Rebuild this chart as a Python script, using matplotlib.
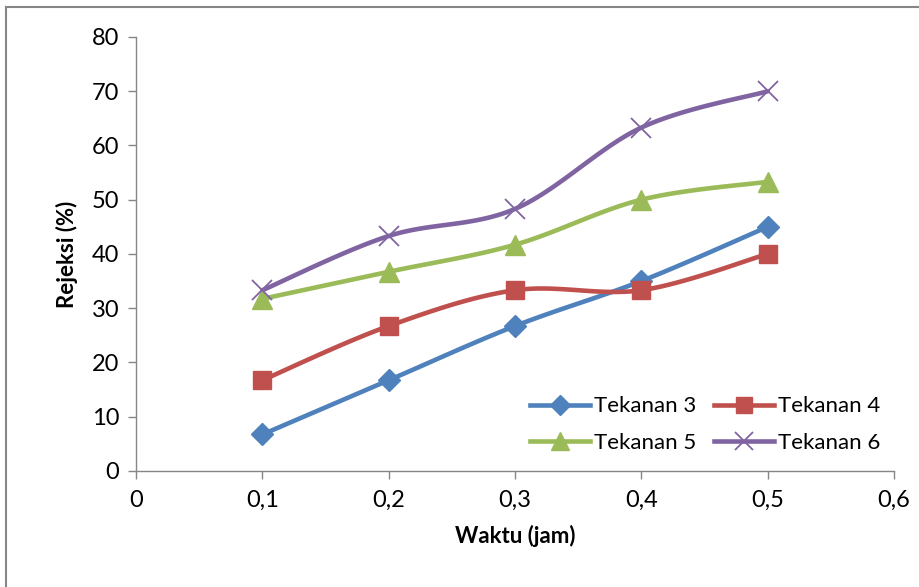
import numpy as np
import matplotlib
matplotlib.use("Agg")
import matplotlib.pyplot as plt
from matplotlib.lines import Line2D
from matplotlib.ticker import FuncFormatter

plt.rcParams['font.family'] = ['Lato', 'DejaVu Sans']

waktu = [0.1, 0.2, 0.3, 0.4, 0.5]
tekanan_3 = [6.7, 16.7, 26.7, 35.0, 45.0]
tekanan_4 = [16.7, 26.7, 33.3, 33.3, 40.0]
tekanan_5 = [31.7, 36.7, 41.7, 50.0, 53.3]
tekanan_6 = [33.3, 43.3, 48.3, 63.3, 70.0]
labels = ["Tekanan 3", "Tekanan 4", "Tekanan 5", "Tekanan 6"]
x_ticks = [0, 0.1, 0.2, 0.3, 0.4, 0.5, 0.6]
y_ticks = [0, 10, 20, 30, 40, 50, 60, 70, 80]


def smooth(x, y, n=30):
    """Catmull-Rom style Bezier smoothing through every point."""
    x = np.asarray(x, float)
    y = np.asarray(y, float)
    px = np.concatenate([[x[0]], x, [x[-1]]])
    py = np.concatenate([[y[0]], y, [y[-1]]])
    xs, ys = [], []
    t = np.linspace(0, 1, n)
    for i in range(1, len(px) - 2):
        p0 = np.array([px[i], py[i]])
        p3 = np.array([px[i + 1], py[i + 1]])
        c1 = p0 + (p3 - np.array([px[i - 1], py[i - 1]])) / 6
        c2 = p3 - (np.array([px[i + 2], py[i + 2]]) - p0) / 6
        b = ((1 - t) ** 3)[:, None] * p0 + (3 * (1 - t) ** 2 * t)[:, None] * c1 \
            + (3 * (1 - t) * t ** 2)[:, None] * c2 + (t ** 3)[:, None] * p3
        xs.append(b[:, 0])
        ys.append(b[:, 1])
    return np.concatenate(xs), np.concatenate(ys)


fig = plt.figure(figsize=(9.19, 5.87), dpi=100)
ax = fig.add_axes([0.148, 0.198, 0.825, 0.739])

series = [
    (tekanan_3, "#4F81BD", "D", 11),
    (tekanan_4, "#C0504D", "s", 12.5),
    (tekanan_5, "#9BBB59", "^", 14),
    (tekanan_6, "#8064A2", "x", 14),
]
handles = []
for (vals, col, mk, ms), lab in zip(series, labels):
    sx, sy = smooth(waktu, vals)
    ax.plot(sx, sy, color=col, lw=3.3, solid_capstyle='round', zorder=2)
    if mk == "x":
        ax.plot(waktu, vals, ls='none', marker=mk, ms=ms, mew=1.3,
                color=col, zorder=3)
    else:
        ax.plot(waktu, vals, ls='none', marker=mk, ms=ms, mec=col,
                mfc=col, zorder=3)
    handles.append(Line2D([], [], color=col, lw=3.3, marker=mk,
                          ms=ms * 0.9, mew=1.3 if mk == "x" else 1,
                          label=lab))

ax.set_xlim(0, 0.6)
ax.set_ylim(0, 80)
ax.set_xticks(x_ticks)
ax.set_yticks(y_ticks)
ax.xaxis.set_major_formatter(FuncFormatter(
    lambda v, p: "0" if v == 0 else f"{v:.1f}".replace(".", ",")))

for side in ("top", "right"):
    ax.spines[side].set_visible(False)
for side in ("left", "bottom"):
    ax.spines[side].set_color("#868686")
    ax.spines[side].set_linewidth(1.0)
ax.tick_params(axis='both', colors="#868686", labelcolor="black",
               labelsize=17, length=6, width=1.0, direction='out')
ax.tick_params(axis='x', pad=8)
ax.tick_params(axis='y', pad=6)

ax.set_xlabel("Waktu (jam)", fontsize=16, fontweight='bold', labelpad=10)
ax.set_ylabel("Rejeksi (%)", fontsize=16, fontweight='bold', labelpad=10)

# row-wise legend order: 3, 4 on top; 5, 6 below
order = [0, 2, 1, 3]
ax.legend(handles=[handles[i] for i in order], ncol=2, loc='lower right',
          bbox_to_anchor=(1.0, 0.01), frameon=False, fontsize=16,
          handlelength=2.7, handletextpad=0.2, columnspacing=0.8,
          labelspacing=0.75, borderaxespad=0.2)

# outer chart border
fig.add_artist(Line2D([6 / 919, 6 / 919], [0, 1 - 7 / 587],
                      transform=fig.transFigure, color="#868686", lw=1.5))
fig.add_artist(Line2D([6 / 919, 1], [1 - 7 / 587, 1 - 7 / 587],
                      transform=fig.transFigure, color="#868686", lw=1.5))

fig.savefig("out.png", dpi=100)
